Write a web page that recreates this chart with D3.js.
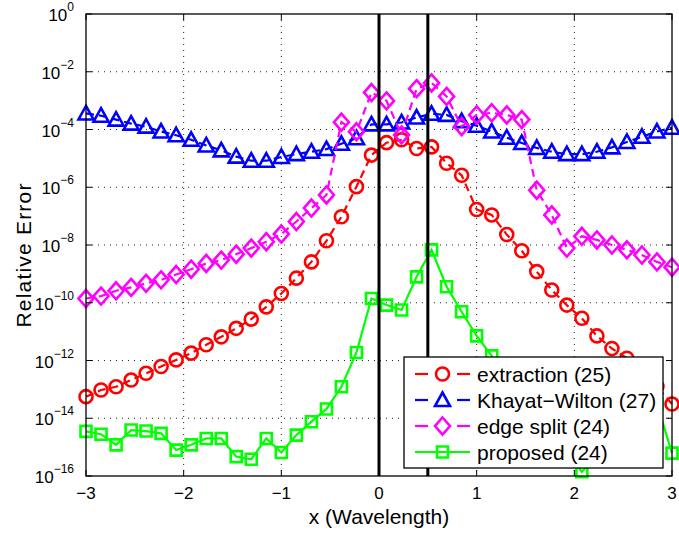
<!DOCTYPE html>
<html>
<head>
<meta charset="utf-8">
<script src="https://cdn.jsdelivr.net/npm/d3@7"></script>
<style>
  html, body { margin: 0; padding: 0; background: #fff; }
  svg { display: block; font-family: "Liberation Sans", Arial, Helvetica, sans-serif; }
</style>
</head>
<body>
<svg id="chart" width="679" height="534"></svg>
<script>
// ---- data ----
const xValues = [-3.000,-2.846,-2.692,-2.538,-2.385,-2.231,-2.077,-1.923,-1.769,-1.615,
  -1.462,-1.308,-1.154,-1.000,-0.846,-0.692,-0.538,-0.385,-0.231,-0.077,
  0.077,0.231,0.385,0.538,0.692,0.846,1.000,1.154,1.308,1.462,
  1.615,1.769,1.923,2.077,2.231,2.385,2.538,2.692,2.846,3.000];

const extraction = [5.6e-14,9.5e-14,1.23e-13,2.1e-13,3.6e-13,6.2e-13,1.05e-12,1.8e-12,3.5e-12,6.6e-12,
  1.3e-11,2.7e-11,7.2e-11,2.1e-10,7.1e-10,2.6e-9,1.4e-8,9.5e-8,1.05e-6,1.3e-5,
  3.5e-5,4.4e-5,2.2e-5,2.5e-5,6.8e-6,2.6e-6,1.7e-7,1.1e-7,2.3e-8,6.3e-9,
  1.2e-9,2.75e-10,8.3e-11,2.9e-11,7.1e-12,2.6e-12,1.2e-12,4.5e-13,1.26e-13,3.1e-14];

const khayatWilton = [3.6e-4,3.0e-4,2.2e-4,1.6e-4,1.26e-4,8.5e-5,6.3e-5,4.4e-5,2.8e-5,1.9e-5,
  1.15e-5,8.3e-6,8.3e-6,1.12e-5,1.4e-5,1.7e-5,2.1e-5,3.2e-5,5.0e-5,1.5e-4,
  1.5e-4,1.75e-4,2.6e-4,3.5e-4,3.2e-4,1.95e-4,1.35e-4,8.5e-5,5.2e-5,3.4e-5,
  2.3e-5,1.7e-5,1.4e-5,1.4e-5,1.7e-5,2.4e-5,3.7e-5,5.6e-5,8.5e-5,1.15e-4];

const edgeSplit = [1.4e-10,1.7e-10,2.6e-10,3.4e-10,4.7e-10,6.2e-10,9.5e-10,1.45e-9,2.3e-9,3.0e-9,
  4.8e-9,7.8e-9,1.3e-8,2.4e-8,6.5e-8,1.9e-7,5.4e-7,1.8e-4,8.3e-5,1.9e-3,
  9.8e-4,6.5e-5,2.6e-3,4.1e-3,1.4e-3,1.26e-4,3.2e-4,3.8e-4,3.2e-4,2.2e-4,
  7.9e-7,1.1e-7,7.8e-9,2.0e-8,1.5e-8,1.0e-8,6.8e-9,4.5e-9,2.6e-9,1.7e-9];

const proposed = [3.5e-15,2.8e-15,1.2e-15,3.9e-15,3.6e-15,3.0e-15,7.9e-16,1.2e-15,2.0e-15,2.0e-15,
  4.7e-16,3.8e-16,2.0e-15,6.5e-16,2.6e-15,7.6e-15,2.1e-14,1.23e-13,1.9e-12,1.4e-10,
  8.3e-11,5.6e-11,7.9e-10,6.8e-9,3.6e-10,4.9e-11,7.1e-12,1.45e-12,2.5e-13,5.0e-14,
  1.0e-14,2.5e-15,6.3e-16,1.4e-16,5.0e-16,1.26e-15,1.0e-15,4.0e-15,3.2e-14,6.2e-16];

const seriesNames = ["extraction (25)", "Khayat\u2212Wilton (27)", "edge split (24)", "proposed (24)"];
const xTicks = [-3, -2, -1, 0, 1, 2, 3];
const yTickExponents = [0, -2, -4, -6, -8, -10, -12, -14, -16];
const markerLines = [0, 0.5];

// ---- layout ----
const svg = d3.select("#chart");
const L = 86, R = 672, T = 14, B = 476;
const x = d3.scaleLinear().domain([-3, 3]).range([L, R]);
const y = d3.scaleLog().domain([1e-16, 1]).range([B, T]);

svg.append("rect").attr("width", 679).attr("height", 534).attr("fill", "#fff");

// grid
const grid = svg.append("g").attr("stroke", "#222").attr("stroke-width", 1).attr("stroke-dasharray", "1,5");
xTicks.forEach(t => {
  if (t > -3 && t < 3) grid.append("line").attr("x1", x(t)).attr("x2", x(t)).attr("y1", T).attr("y2", B);
});
yTickExponents.forEach(e => {
  if (e < 0 && e > -16) grid.append("line").attr("x1", L).attr("x2", R).attr("y1", y(Math.pow(10, e))).attr("y2", y(Math.pow(10, e)));
});

// series
const specs = [
  { data: extraction, color: "#ff0000", dash: "8,5", marker: "circle" },
  { data: khayatWilton, color: "#0000ff", dash: "8,5", marker: "triangle" },
  { data: edgeSplit, color: "#ff00ff", dash: "8,5", marker: "diamond" },
  { data: proposed, color: "#00ff00", dash: null, marker: "square" }
];

function markerPath(type) {
  switch (type) {
    case "triangle": return "M0,-7.5L7.5,6L-7.5,6Z";
    case "diamond": return "M0,-8.5L7.5,0L0,8.5L-7.5,0Z";
    case "square": return "M-5.5,-5.5L5.5,-5.5L5.5,5.5L-5.5,5.5Z";
    default: return "M6.5,0A6.5,6.5 0 1,1 -6.5,0A6.5,6.5 0 1,1 6.5,0Z";
  }
}

const line = d3.line().x((d, i) => x(xValues[i])).y(d => y(d));

specs.forEach(s => {
  const g = svg.append("g");
  g.append("path").attr("d", line(s.data)).attr("fill", "none")
    .attr("stroke", s.color).attr("stroke-width", 2.2)
    .attr("stroke-dasharray", s.dash);
  g.selectAll("path.m").data(s.data).enter().append("path").attr("class", "m")
    .attr("d", markerPath(s.marker))
    .attr("transform", (d, i) => `translate(${x(xValues[i])},${y(d)})`)
    .attr("fill", "none").attr("stroke", s.color).attr("stroke-width", 2.6);
});

// vertical black lines
markerLines.forEach(v => {
  svg.append("line").attr("x1", x(v)).attr("x2", x(v)).attr("y1", T).attr("y2", B)
    .attr("stroke", "#000").attr("stroke-width", 3);
});

// axes box
svg.append("rect").attr("x", L).attr("y", T).attr("width", R - L).attr("height", B - T)
  .attr("fill", "none").attr("stroke", "#000").attr("stroke-width", 1.3);

// ticks (inside, all sides)
const ticks = svg.append("g").attr("stroke", "#000").attr("stroke-width", 1);
xTicks.forEach(t => {
  ticks.append("line").attr("x1", x(t)).attr("x2", x(t)).attr("y1", B).attr("y2", B - 6);
  ticks.append("line").attr("x1", x(t)).attr("x2", x(t)).attr("y1", T).attr("y2", T + 6);
});
yTickExponents.forEach(e => {
  const yy = y(Math.pow(10, e));
  ticks.append("line").attr("x1", L).attr("x2", L + 6).attr("y1", yy).attr("y2", yy);
  ticks.append("line").attr("x1", R).attr("x2", R - 6).attr("y1", yy).attr("y2", yy);
});

// tick labels
xTicks.forEach(t => {
  svg.append("text").attr("x", x(t)).attr("y", B + 23).attr("text-anchor", "middle")
    .attr("font-size", 17).attr("fill", "#000")
    .text(t < 0 ? "\u2212" + Math.abs(t) : String(t));
});
yTickExponents.forEach(e => {
  const yy = y(Math.pow(10, e));
  const tx = svg.append("text").attr("x", 74).attr("y", yy + 7).attr("text-anchor", "end")
    .attr("font-size", 17).attr("fill", "#000");
  tx.append("tspan").text("10");
  tx.append("tspan").attr("dy", -10).attr("font-size", 12)
    .text(e < 0 ? "\u2212" + Math.abs(e) : String(e));
});

// axis labels
svg.append("text").attr("x", x(0)).attr("y", 524).attr("text-anchor", "middle")
  .attr("font-size", 21).attr("fill", "#000").text("x (Wavelength)");
svg.append("text").attr("transform", "translate(31,255) rotate(-90)").attr("text-anchor", "middle")
  .attr("font-size", 21).attr("letter-spacing", 1.2).attr("fill", "#000").text("Relative Error");

// legend
const lg = svg.append("g");
lg.append("rect").attr("x", 404).attr("y", 357).attr("width", 259).attr("height", 111)
  .attr("fill", "#fff").attr("stroke", "#000").attr("stroke-width", 1.3);
specs.forEach((s, i) => {
  const cy = 374 + i * 26;
  if (s.dash) {
    lg.append("line").attr("x1", 415).attr("x2", 428).attr("y1", cy).attr("y2", cy)
      .attr("stroke", s.color).attr("stroke-width", 2.2);
    lg.append("line").attr("x1", 457).attr("x2", 470).attr("y1", cy).attr("y2", cy)
      .attr("stroke", s.color).attr("stroke-width", 2.2);
  } else {
    lg.append("line").attr("x1", 415).attr("x2", 470).attr("y1", cy).attr("y2", cy)
      .attr("stroke", s.color).attr("stroke-width", 2.2);
  }
  lg.append("path").attr("d", markerPath(s.marker)).attr("transform", `translate(442.5,${cy})`)
    .attr("fill", "none").attr("stroke", s.color).attr("stroke-width", 2.6);
  lg.append("text").attr("x", 477).attr("y", cy + 7.5).attr("font-size", 21).attr("fill", "#000")
    .text(seriesNames[i]);
});
</script>
</body>
</html>
